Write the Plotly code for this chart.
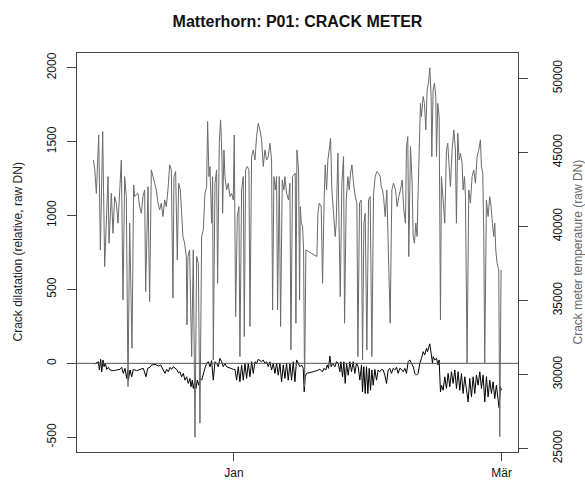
import plotly.graph_objects as go
from datetime import datetime, timedelta

# ---------------- data ----------------
# days since 2008-12-01 00:00
temp_day = [0.0, 0.30, 0.67, 1.18, 1.55, 2.06, 2.50, 3.24, 3.46, 3.97, 4.34, 4.70, 5.07, 5.44, 6.17, 6.54, 6.91, 7.27, 7.64, 8.01,
            8.52, 8.89, 9.11, 9.84, 10.21, 10.58, 10.94, 11.31, 11.53, 12.05, 12.41, 12.78, 13.15, 13.51, 13.88, 14.25, 14.62, 14.98, 15.35, 15.72,
            16.08, 16.45, 16.82, 17.19, 17.55, 17.77, 18.14, 18.51, 18.80, 19.17, 19.53, 19.75, 20.12, 20.49, 20.64, 20.86, 21.22,
            21.67, 22.03, 22.40, 22.77, 23.14, 23.50, 23.87, 24.24, 24.60, 24.97, 25.19, 25.48, 25.71, 26.07, 26.29, 26.44, 26.81, 27.17, 27.39, 27.76,
            28.05, 28.35, 28.50, 28.79, 29.01, 29.38, 29.74, 30.11, 30.48, 30.84, 31.06, 31.36, 31.73, 32.09, 32.31, 32.68, 33.05, 33.27, 33.56, 33.93,
            34.30, 34.52, 34.88, 35.25, 35.62, 35.98, 36.35, 36.72, 37.09, 37.45, 37.82, 38.19, 38.55, 38.92, 39.29, 39.51, 39.80, 40.10, 40.39, 40.61,
            40.98, 41.27, 41.64, 42.00, 42.22, 42.59, 42.81, 43.03, 43.33, 43.55, 43.91,
            44.50, 44.65, 44.87, 45.24, 45.46, 45.61, 45.83, 46.12, 46.34, 46.56, 46.85, 47.44, 49.28, 49.50, 49.79, 50.23, 50.52, 50.89, 51.11, 51.41,
            51.70, 51.99, 52.29, 52.58, 52.95, 53.31, 53.53, 53.90, 54.20, 54.42, 54.78, 55.15, 55.37, 55.74, 56.10, 56.40, 56.69, 56.99, 57.35, 57.72,
            58.09, 58.31, 58.67, 59.04, 59.34, 59.63, 59.92, 60.29, 60.66, 61.02, 61.39, 61.76, 62.13, 62.49, 62.86, 63.23, 63.45, 63.74, 63.96, 64.33,
            64.69, 65.06, 65.43, 65.80, 66.16,
            66.60, 66.96, 67.33, 67.70, 68.07, 68.43, 68.80, 69.02, 69.31, 69.53, 69.90, 70.27, 70.49, 70.78, 71.08, 71.37, 71.52, 71.81, 72.10, 72.32,
            72.69, 72.98, 73.28, 73.57, 73.87, 74.16, 74.45, 74.60, 74.89, 75.19, 75.48, 75.63, 75.92, 76.22, 76.51, 76.73, 77.10, 77.46, 77.83, 78.12,
            78.42, 78.71, 79.08, 79.45, 79.81, 80.03, 80.33, 80.62, 80.91, 81.28, 81.50, 81.80, 82.02, 82.38, 82.75, 83.12, 83.48, 83.85, 84.22, 84.59,
            84.95, 85.32, 85.54, 85.83, 86.05, 86.27, 86.64, 87.01, 87.37, 87.67, 87.96, 88.26, 88.48, 88.70, 88.99, 89.36, 89.58, 89.87]
temp_dn = [44490, 43930, 42240, 46180, 38420, 46410, 37290, 43370, 38870, 42240, 39540, 42020, 41570, 40220, 44490, 35040, 43370, 42020, 29180, 40220,
           31770, 42800, 42020, 42240, 41340, 40890, 42020, 42470, 35600, 42690, 34920, 43820, 43370, 42920, 42470, 41570, 41120, 41570, 40670, 41790,
           41340, 42470, 44160, 43820, 35150, 43370, 43710, 37740, 42920, 42470, 39770, 39320, 38870, 37970, 33350, 37970, 38420,
           31210, 38420, 25760, 37970, 37510, 26710, 39320, 39770, 42240, 42690, 47090, 43370, 44050, 40220, 43370, 30980, 42920, 43820, 36160, 45620,
           47200, 44720, 40890, 45170, 43370, 42470, 42920, 42020, 42240, 41790, 46180, 33910, 40670, 41340, 31210, 42470, 43370, 32560, 43820, 44050,
           43820, 33240, 44720, 45170, 44490, 46070, 46970, 46520, 45850, 44050, 45170, 44490, 44720, 45620, 44490, 34360, 43370, 42470, 43370, 34360,
           43370, 33240, 43140, 42470, 43370, 42240, 42020, 41790, 42920, 31660, 43370,
           43600, 33460, 45170, 43820, 35040, 41340, 40220, 40000, 38420, 29180, 38420, 38300, 37970, 40890, 41570, 41340, 36160, 42020, 44160, 42470,
           44490, 45170, 45960, 42470, 40670, 39320, 40220, 44950, 39320, 35260, 42920, 44720, 33460, 41790, 43370, 42470, 43600, 44160, 42920, 42020,
           41570, 31210, 41570, 41790, 30980, 40220, 40890, 31660, 41790, 42020, 31210, 42240, 43370, 43710, 43600, 43370, 42690, 42470, 42020, 40670,
           42470, 37290, 33460, 42470, 42920,
           42470, 41340, 42020, 42470, 43140, 41120, 40220, 45400, 46070, 37970, 45400, 42920, 39320, 38870, 40220, 39320, 41570, 45170, 48320, 47420,
           48780, 48320, 46520, 49230, 49680, 50720, 48780, 44720, 49230, 49680, 48780, 44720, 48320, 47420, 33690, 43370, 41790, 40220, 45170, 45620,
           44050, 42690, 45170, 46520, 45170, 40220, 46300, 44490, 44950, 44270, 42470, 43370, 42020, 30760, 42470, 41570, 43370, 43820, 42920, 44720,
           45170, 45850, 44050, 43600, 39540, 30760, 41790, 40670, 42020, 41340, 40220, 39320, 40220, 38420, 37510, 37060, 25800, 37060]

crack_day = [0.30, 0.60, 1.11, 1.33, 1.62, 1.84, 2.14, 2.36, 2.65, 2.95, 3.31, 3.68, 4.41, 5.15, 5.88, 6.25, 6.62, 6.98, 7.35, 7.57,
             7.72, 8.09, 8.45, 8.82, 9.55, 10.29, 11.02, 11.61, 11.98, 12.49, 12.86, 13.59, 14.33, 14.84, 15.43, 15.79, 16.16, 16.53, 16.90, 17.26,
             17.63, 18.00, 18.36, 18.73, 19.10, 19.47, 19.83, 20.20, 20.57, 20.93, 21.30, 21.52, 21.81, 22.03, 22.33, 22.62, 22.91, 23.21, 23.50, 23.87,
             24.24, 24.60, 24.97, 25.34, 25.71, 26.07, 26.44, 26.81, 27.17, 27.54, 27.91, 28.28, 28.64, 29.01, 29.38, 30.11, 30.85, 31.21, 31.58, 31.95,
             32.31, 32.68, 33.05, 33.42, 33.78, 34.15, 34.52, 34.89, 35.25, 35.62, 35.99, 36.35, 36.72, 37.09, 37.45, 37.82, 38.19, 38.55, 38.92, 39.29,
             39.66, 40.02, 40.39, 40.76, 41.12, 41.49, 41.86, 42.23, 42.59, 42.96,
             43.33, 43.69, 44.06, 44.43, 44.79, 45.16, 45.53, 45.89, 46.26, 46.48, 46.70, 46.99, 47.73, 48.46, 49.20, 49.93, 50.52, 50.81, 51.25, 51.55,
             51.84, 52.14, 52.43, 52.72, 53.24, 53.60, 53.97, 54.34, 54.56, 54.93, 55.22, 55.51, 55.81, 56.17, 56.54, 56.91, 57.27, 57.64, 58.01, 58.38,
             58.74, 59.11, 59.33, 59.62, 59.92, 60.21, 60.51, 60.80, 61.09, 61.39, 61.68, 62.05, 62.41, 62.78, 63.15, 63.52, 63.88, 64.25, 64.62, 64.98,
             65.35, 65.72, 66.09, 66.45, 66.82, 67.19, 67.55, 67.92, 68.29, 68.66, 69.02, 69.39, 69.76, 70.12, 70.49, 70.86, 71.23, 71.59, 71.96, 72.33,
             72.69, 73.06, 73.43, 73.65, 73.94, 74.16, 74.46, 74.75, 74.90, 75.26, 75.63, 76.00, 76.22, 76.51, 76.73, 77.10, 77.47, 77.83, 78.20, 78.57,
             78.93, 79.30, 79.67, 80.04, 80.40, 80.77, 81.14, 81.50, 81.87, 82.24, 82.61, 82.97, 83.34, 83.71, 84.07, 84.44, 84.81, 85.18, 85.54, 85.91,
             86.28, 86.64, 87.01, 87.38, 87.74, 88.11, 88.48, 88.84, 89.21, 89.43, 89.73, 89.95]
crack_dn = [-5, 0, 11, -45, 27, -57, 23, -23, 0, -41, -27, -45, -50, -45, -41, -27, -68, -34, -102, -45,
            -114, -45, -91, -41, -50, -41, -34, -91, -34, -27, -11, -7, -18, -11, -50, -68, -41, -57, -27, -41,
            -23, -34, -41, -64, -57, -91, -68, -114, -91, -136, -102, -159, -114, -170, -125, -170, -114, -148, -102, -114,
            -68, -34, 0, 11, -23, 18, -114, 11, 0, -23, 34, 11, -23, 0, -23, -34, -41, -41, -114, -23,
            -125, -11, -114, 0, -102, 0, -91, 11, -68, 11, 0, 27, 18, 11, 23, 0, 11, -23, 11, -45,
            0, -68, 0, -80, 0, -125, -11, -102, 0, -114,
            0, -114, 11, -125, 23, 0, -23, -11, -34, -193, -91, -68, -64, -57, -50, -41, -57, -34, -45, -11,
            -34, 50, -23, 0, -23, 11, 0, -57, 11, -91, 11, -136, 0, -80, 11, -57, 11, -68, 0, -23,
            -114, -11, -193, -23, -204, -23, -204, -34, -182, -45, -148, -41, -114, -45, -57, -41, -45, -80, -136, -45,
            -34, -68, -34, -45, -27, -68, -34, -41, -57, -34, -68, 11, 23, 0, -23, -68, -80, -68, 0, 34,
            79, 57, 102, 79, 118, 132, 68, 0, 45, 23, 34, -11, 23, -193, -148, -182, -91, -170, -68, -159,
            -57, -136, -45, -170, -57, -182, -68, -204, -91, -170, -261, -102, -227, -91, -204, -80, -148, -57, -170, -80,
            -261, -91, -227, -114, -204, -125, -238, -148, -227, -300, -159, -182]

x_tick_dates = ["2009-01-01", "2009-03-01"]
x_tick_text = ["Jan", "Mär"]
left_ticks = [-500, 0, 500, 1000, 1500, 2000]
right_ticks = [25000, 30000, 35000, 40000, 45000, 50000]

title_text = "Matterhorn: P01: CRACK METER"
left_title = "Crack dilatation (relative, raw DN)"
right_title = "Crack meter temperature (raw DN)"

# ---------------- figure ----------------
base = datetime(2008, 12, 1)
temp_x = [base + timedelta(days=d) for d in temp_day]
crack_x = [base + timedelta(days=d) for d in crack_day]

FONT = "Liberation Sans, Arial, sans-serif"
AX = "#444444"

fig = go.Figure()
fig.add_trace(go.Scatter(x=temp_x, y=temp_dn, yaxis="y2", mode="lines",
                         line=dict(color="#6a6a6a", width=1), showlegend=False, hoverinfo="skip"))
fig.add_trace(go.Scatter(x=crack_x, y=crack_dn, yaxis="y", mode="lines",
                         line=dict(color="#000000", width=1), showlegend=False, hoverinfo="skip"))

fig.add_shape(type="line", xref="paper", yref="y", x0=0, x1=1, y0=0, y1=0,
              line=dict(color="#555555", width=1))

fig.update_layout(
    width=585, height=481,
    margin=dict(l=77, r=67, t=53, b=29),
    paper_bgcolor="white", plot_bgcolor="white",
    font=dict(family=FONT, size=12, color="#111111"),
    title=dict(text="<b>" + title_text + "</b>", x=0.5, xref="paper", xanchor="center",
               y=1 - 21 / 481, yref="container", yanchor="middle",
               font=dict(family=FONT, size=16, color="#111111")),
    xaxis=dict(range=[base - timedelta(days=3.6), base + timedelta(days=93.6)],
               tickvals=x_tick_dates, ticktext=x_tick_text, ticks="outside", ticklen=8,
               tickcolor=AX, showgrid=False, zeroline=False, showline=True, mirror=True,
               linecolor=AX, linewidth=1, ticklabelstandoff=2, automargin=False,
               tickfont=dict(family=FONT, size=12, color="#111111")),
    yaxis=dict(range=[-600, 2100], tickvals=left_ticks, ticktext=[str(v) for v in left_ticks],
               tickangle=-90, ticks="outside", ticklen=9, automargin=False,
               tickcolor=AX, showgrid=False, zeroline=False, showline=True, mirror=True,
               linecolor=AX, linewidth=1, ticklabelstandoff=6,
               tickfont=dict(family=FONT, size=12, color="#111111")),
    yaxis2=dict(range=[24760, 51720], tickvals=right_ticks, ticktext=[str(v) for v in right_ticks],
                tickangle=-90, ticks="outside", ticklen=9, automargin=False,
                tickcolor=AX, showgrid=False, zeroline=False, showline=False,
                overlaying="y", side="right", ticklabelstandoff=20,
                tickfont=dict(family=FONT, size=12, color="#111111")),
    annotations=[
        dict(text=left_title, xref="paper", yref="paper", x=0, y=0.5, xshift=-60,
             xanchor="center", yanchor="middle", textangle=-90, showarrow=False,
             font=dict(family=FONT, size=12, color="#222222")),
        dict(text=right_title, xref="paper", yref="paper", x=1, y=0.5, xshift=59,
             xanchor="center", yanchor="middle", textangle=-90, showarrow=False,
             font=dict(family=FONT, size=12, color="#666666")),
    ],
)

fig.write_html("out.html", config={"displayModeBar": False},
               post_script="document.body.style.margin='0';document.body.style.padding='0';"
                           "document.documentElement.style.overflow='hidden';")
